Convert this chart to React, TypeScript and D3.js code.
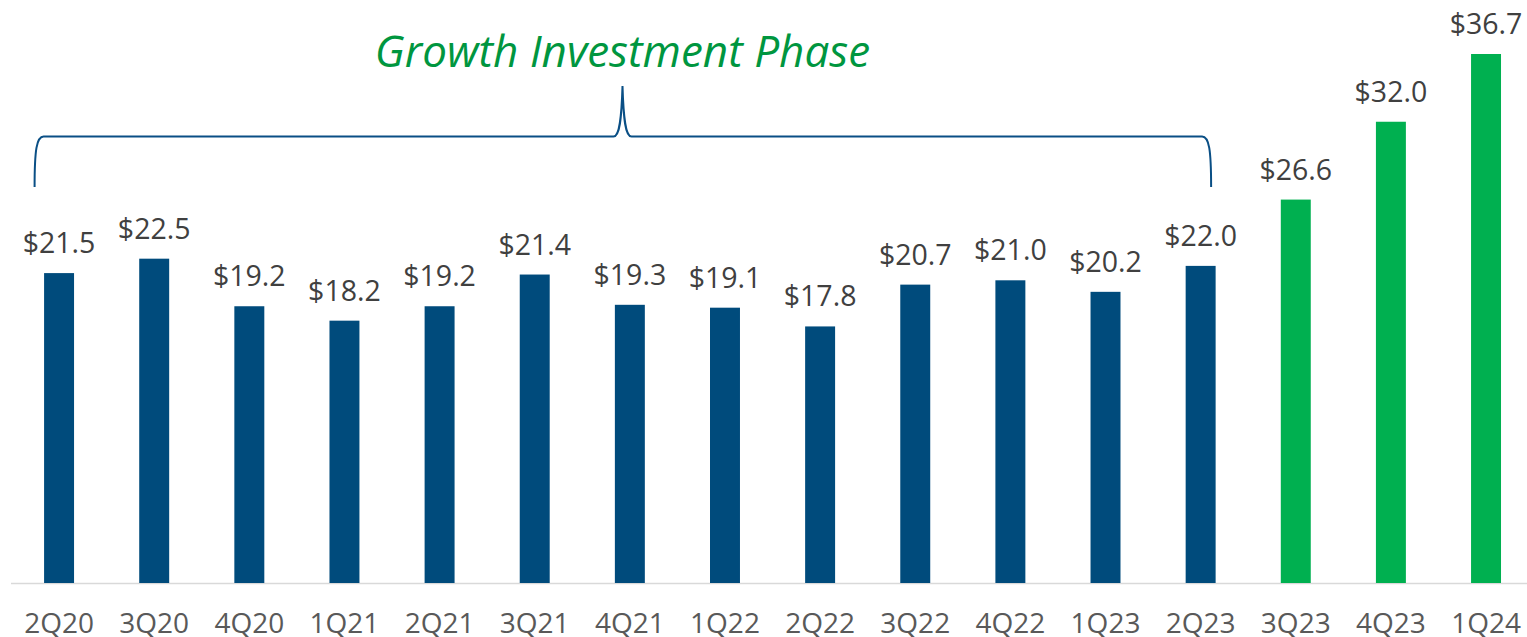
import { useEffect, useRef } from "react";
import * as d3 from "d3";

const quarters = [
  "2Q20", "3Q20", "4Q20", "1Q21", "2Q21", "3Q21", "4Q21", "1Q22",
  "2Q22", "3Q22", "4Q22", "1Q23", "2Q23", "3Q23", "4Q23", "1Q24",
];
const values = [
  21.5, 22.5, 19.2, 18.2, 19.2, 21.4, 19.3, 19.1,
  17.8, 20.7, 21.0, 20.2, 22.0, 26.6, 32.0, 36.7,
];
// quarters after the growth investment phase get the green bar
const growthQuarters = ["3Q23", "4Q23", "1Q24"];
const phaseTitle = "Growth Investment Phase";
const phaseStart = "2Q20";
const phaseEnd = "2Q23";

const W = 1527;
const H = 637;

const App = () => {
  const ref = useRef<SVGSVGElement | null>(null);

  useEffect(() => {
    const svg = d3.select(ref.current);
    svg.selectAll("*").remove();

    const x = d3
      .scaleBand()
      .domain(quarters)
      .range([11.5, 1533.6])
      .paddingInner(0.685)
      .paddingOuter(0.3425);
    const y = d3.scaleLinear().domain([0, 36.7]).range([583, 54]);

    const font = "'Open Sans', 'Noto Sans', sans-serif";

    // baseline
    svg
      .append("line")
      .attr("x1", 11)
      .attr("x2", W)
      .attr("y1", y(0) + 0.5)
      .attr("y2", y(0) + 0.5)
      .attr("stroke", "#d9d9d9")
      .attr("stroke-width", 1.5);

    // bars
    svg
      .append("g")
      .selectAll("rect")
      .data(quarters)
      .join("rect")
      .attr("x", (d) => x(d)!)
      .attr("width", x.bandwidth())
      .attr("y", (_, i) => y(values[i]))
      .attr("height", (_, i) => y(0) - y(values[i]))
      .attr("fill", (d) => (growthQuarters.includes(d) ? "#00b050" : "#004b7c"));

    // value labels
    svg
      .append("g")
      .attr("font-family", font)
      .attr("font-size", 28.5)
      .attr("fill", "#404040")
      .attr("text-anchor", "middle")
      .selectAll("text")
      .data(quarters)
      .join("text")
      .attr("x", (d) => x(d)! + x.bandwidth() / 2)
      .attr("y", (_, i) => y(values[i]) - 20)
      .text((_, i) => "$" + d3.format(".1f")(values[i]));

    // category labels
    svg
      .append("g")
      .attr("font-family", font)
      .attr("font-size", 28)
      .attr("fill", "#595959")
      .attr("text-anchor", "middle")
      .selectAll("text")
      .data(quarters)
      .join("text")
      .attr("x", (d) => x(d)! + x.bandwidth() / 2)
      .attr("y", 633)
      .text((d) => d);

    // curly brace over the investment phase
    const bx0 = x(phaseStart)! - 9.5;
    const bx1 = x(phaseEnd)! + x.bandwidth() - 4.5;
    const mid = 622.5;
    const top = 136.5;
    const bottom = 187;
    const tip = 86;
    const p = d3.path();
    p.moveTo(bx0, bottom);
    p.bezierCurveTo(bx0, 150, bx0 + 2, top, bx0 + 9, top);
    p.lineTo(mid - 9, top);
    p.bezierCurveTo(mid - 3, top, mid - 1, 120, mid, tip);
    p.bezierCurveTo(mid + 1, 120, mid + 3, top, mid + 9, top);
    p.lineTo(bx1 - 9, top);
    p.bezierCurveTo(bx1 - 2, top, bx1, 150, bx1, bottom);
    svg
      .append("path")
      .attr("d", p.toString())
      .attr("fill", "none")
      .attr("stroke", "#0a4f85")
      .attr("stroke-width", 2);

    svg
      .append("text")
      .attr("x", mid)
      .attr("y", 67)
      .attr("text-anchor", "middle")
      .attr("font-family", font)
      .attr("font-style", "italic")
      .attr("font-size", 44)
      .attr("fill", "#00963f")
      .text(phaseTitle);
  }, []);

  return (
    <svg
      ref={ref}
      width={W}
      height={H}
      style={{ position: "absolute", left: 0, top: 0, background: "#fff" }}
    />
  );
};

export default App;
